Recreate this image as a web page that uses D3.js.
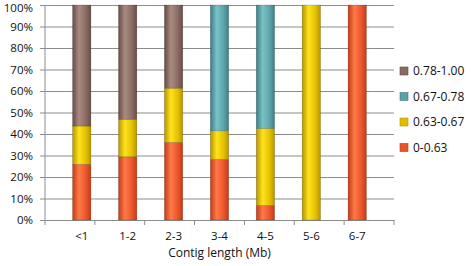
<!DOCTYPE html>
<html>
<head>
<meta charset="utf-8">
<script src="https://cdn.jsdelivr.net/npm/d3@7"></script>
<style>
  body { margin: 0; background: #fff; }
  svg text { font-family: "Open Sans", sans-serif; fill: #111; }
</style>
</head>
<body>
<div id="chart"></div>
<script>
// categories (contig length, Mb)
var categories = ["<1", "1-2", "2-3", "3-4", "4-5", "5-6", "6-7"];
// series values (%)
var seriesNames = ["0-0.63", "0.63-0.67", "0.67-0.78", "0.78-1.00"];
var s063 = [25.9, 29.4, 36.1, 28.2, 6.8, 0, 100];
var s067 = [17.8, 17.4, 25.2, 13.3, 35.8, 100, 0];
var s078 = [0, 0, 0, 58.5, 57.4, 0, 0];
var s100 = [56.3, 53.2, 38.7, 0, 0, 0, 0];
var yTicks = [0, 10, 20, 30, 40, 50, 60, 70, 80, 90, 100];

var colors = {
    "0-0.63":    ["#c23a16", "#ff7a48", "#e9542a"],
    "0.63-0.67": ["#b59400", "#ffe31c", "#e2be00"],
    "0.67-0.78": ["#3d7c82", "#78c2c6", "#5aa2a8"],
    "0.78-1.00": ["#664b44", "#a98b82", "#8a6b63"]
};

var margin = {top: 5, right: 78, bottom: 46, left: 45},
    width = 472 - margin.left - margin.right,
    height = 266 - margin.top - margin.bottom;

var svg = d3.select("#chart")
    .append("svg")
    .attr("width", 472)
    .attr("height", 266);

// gradients for the cylinder look
var defs = svg.append("defs");
seriesNames.forEach(function (name, i) {
    var c = colors[name];
    var g = defs.append("linearGradient")
        .attr("id", "grad" + i)
        .attr("x1", "0%").attr("x2", "100%")
        .attr("y1", "0%").attr("y2", "0%");
    g.append("stop").attr("offset", "0%").attr("stop-color", c[0]);
    g.append("stop").attr("offset", "35%").attr("stop-color", c[1]);
    g.append("stop").attr("offset", "75%").attr("stop-color", c[2]);
    g.append("stop").attr("offset", "100%").attr("stop-color", c[0]);
});

var chart = svg.append("g")
    .attr("transform", "translate(" + margin.left + "," + margin.top + ")");

var data = categories.map(function (c, i) {
    return {cat: c, "0-0.63": s063[i], "0.63-0.67": s067[i], "0.67-0.78": s078[i], "0.78-1.00": s100[i]};
});

var x = d3.scaleBand()
    .domain(categories)
    .range([0, width])
    .padding(0.6);

var y = d3.scaleLinear()
    .domain([0, 100])
    .range([height, 0]);

// gridlines + y axis
var yAxis = chart.append("g")
    .call(d3.axisLeft(y).tickValues(yTicks).tickSize(-width)
        .tickFormat(function (d) { return d + "%"; }));
yAxis.select(".domain").remove();
yAxis.selectAll(".tick line")
    .attr("x1", -5)
    .attr("stroke", "#8c8c8c");
yAxis.selectAll(".tick text")
    .attr("x", -12)
    .attr("dy", function (d) { return d === 100 ? "0.55em" : "0.32em"; })
    .style("font-size", "11.5px");

// x axis
var xAxis = chart.append("g")
    .attr("transform", "translate(0," + height + ")")
    .call(d3.axisBottom(x).tickSize(0).tickPadding(12));
xAxis.select(".domain").attr("stroke", "#8c8c8c");
xAxis.selectAll(".tick text").style("font-size", "11.5px");
// category boundary ticks
chart.append("g")
    .selectAll("line")
    .data(d3.range(categories.length + 1))
    .enter().append("line")
    .attr("x1", function (d) { return d * width / categories.length; })
    .attr("x2", function (d) { return d * width / categories.length; })
    .attr("y1", height)
    .attr("y2", height + 5)
    .attr("stroke", "#8c8c8c");
chart.append("line")
    .attr("x1", 0).attr("x2", 0)
    .attr("y1", 0).attr("y2", height)
    .attr("stroke", "#8c8c8c");

// stacked bars
var stacked = d3.stack().keys(seriesNames)(data);

chart.append("g")
    .selectAll("g")
    .data(stacked)
    .enter().append("g")
    .attr("fill", function (d, i) { return "url(#grad" + i + ")"; })
    .selectAll("rect")
    .data(function (d) { return d.filter(function (p) { return p[1] - p[0] > 0; }); })
    .enter().append("rect")
    .attr("x", function (d) { return x(d.data.cat); })
    .attr("y", function (d) { return y(d[1]); })
    .attr("width", x.bandwidth())
    .attr("height", function (d) { return y(d[0]) - y(d[1]); })
    .attr("stroke", "rgba(0,0,0,0.25)")
    .attr("stroke-width", 0.6);

// axis title
svg.append("text")
    .attr("x", margin.left + width / 2)
    .attr("y", 257)
    .attr("text-anchor", "middle")
    .style("font-size", "12px")
    .text("Contig length (Mb)");

// legend (top series first)
var legend = svg.append("g")
    .selectAll("g")
    .data(seriesNames.slice().reverse())
    .enter().append("g")
    .attr("transform", function (d, i) { return "translate(400," + (71 + i * 25.5) + ")"; });
legend.append("rect")
    .attr("x", 0).attr("y", -4)
    .attr("width", 8).attr("height", 8)
    .attr("fill", function (d) { return colors[d][2]; })
    .attr("stroke", function (d) { return colors[d][0]; })
    .attr("stroke-width", 0.6);
legend.append("text")
    .attr("x", 13)
    .attr("dy", "0.35em")
    .style("font-size", "12px")
    .text(function (d) { return d; });
</script>
</body>
</html>
